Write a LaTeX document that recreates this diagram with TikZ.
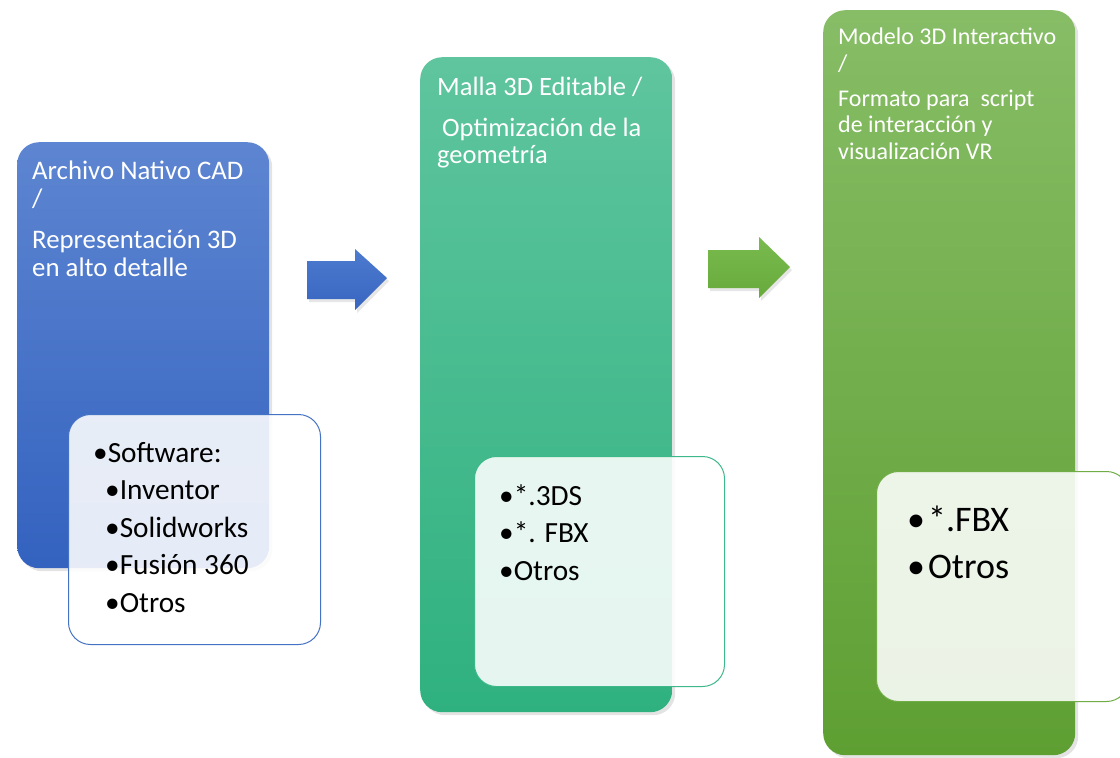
\documentclass[tikz,border=0pt]{standalone}
\usepackage{fontspec}
\setmainfont{Carlito}
\usepackage{xcolor}
\usepackage{tikz}
\usetikzlibrary{positioning,shadows}
\definecolor{cadtop}{HTML}{5D85D1}
\definecolor{cadbot}{HTML}{3362BF}
\definecolor{cadline}{HTML}{4472C4}
\definecolor{meshtop}{HTML}{5FC59F}
\definecolor{meshbot}{HTML}{2FB17F}
\definecolor{meshline}{HTML}{3DB88A}
\definecolor{vrtop}{HTML}{87BD66}
\definecolor{vrbot}{HTML}{5E9F32}
\definecolor{vrline}{HTML}{70AD47}
\definecolor{arrowbluetop}{HTML}{4D7BCF}
\definecolor{arrowbluebot}{HTML}{3865C0}
\definecolor{arrowgreentop}{HTML}{7ABA4F}
\definecolor{arrowgreenbot}{HTML}{67AB3B}
\tikzset{
  stage/.style={rectangle,rounded corners=22pt,draw=none,anchor=north west,
    inner sep=0pt,minimum width=252pt,
    drop shadow={shadow xshift=3pt,shadow yshift=-3pt,opacity=0.22}},
  stagetitle/.style={anchor=north west,inner sep=0pt,align=left,text=white},
  listbox/.style={rectangle,rounded corners=22pt,anchor=north west,line width=1pt,
    fill=white,fill opacity=0.88,inner sep=0pt,minimum width=251pt,minimum height=230pt},
  listtext/.style={anchor=north west,inner sep=0pt,align=left,text=black},
  flowarrow/.style={draw=none,
    drop shadow={shadow xshift=2pt,shadow yshift=-3pt,opacity=0.2}}
}

\begin{document}
\begin{tikzpicture}[x=1pt,y=-1pt]
  \useasboundingbox (0,0) rectangle (1120,758);
  % stage boxes
  \node[stage,top color=cadtop,bottom color=cadbot,minimum height=426pt] (cad) at (17,142) {};
  \node[stage,top color=meshtop,bottom color=meshbot,minimum height=655pt] (mesh) at (420,57) {};
  \node[stage,top color=vrtop,bottom color=vrbot,minimum height=745pt] (vr) at (823,10) {};
  \node[stagetitle,font=\fontsize{26.8}{28}\selectfont,below right=18.5pt and 15pt of cad.north west] (cadtitle)
    {Archivo Nativo CAD\\/\\[13pt]Representación 3D\\en alto detalle};
  \node[stagetitle,font=\fontsize{26.5}{27.5}\selectfont,below right=19.5pt and 17pt of mesh.north west] (meshtitle)
    {Malla 3D Editable /\\[13.5pt]\hspace*{5pt}Optimización de la\\geometría};
  \node[stagetitle,font=\fontsize{24}{26.5}\selectfont,below right=18pt and 15pt of vr.north west] (vrtitle)
    {Modelo 3D Interactivo\\/\\[8.5pt]Formato para\ \ script\\de interacción y\\visualización VR};
  % arrows between stages
  \shade[flowarrow,top color=arrowbluetop,bottom color=arrowbluebot]
    (307,261) -- (355,261) -- (355,249) -- (387,278) -- (355,310) -- (355,299) -- (307,299) -- cycle;
  \shade[flowarrow,top color=arrowgreentop,bottom color=arrowgreenbot]
    (708,250) -- (759,250) -- (759,237) -- (790,267) -- (759,298) -- (759,288) -- (708,288) -- cycle;
  % lists
  \node[listbox,draw=cadline,minimum width=252pt] (cadlist) at (68,414) {};
  \node[listbox,draw=meshline,minimum width=250pt] (meshlist) at (474,456) {};
  \node[listbox,draw=vrline,minimum width=252pt] (vrlist) at (876,471) {};
  \node[listtext,font=\fontsize{29.3}{37.5}\selectfont,below right=28pt and 25pt of cadlist.north west] (cadsoft)
    {•Software:\\\hspace*{12pt}•Inventor\\\hspace*{12pt}•Solidworks\\\hspace*{12pt}•Fusión 360\\\hspace*{12pt}•Otros};
  \node[listtext,font=\fontsize{29.3}{37.5}\selectfont,below right=28pt and 25pt of meshlist.north west] (meshfmt)
    {•*.3DS\\•*. FBX\\•Otros};
  \node[listtext,font=\fontsize{36}{47}\selectfont,below right=35pt and 31pt of vrlist.north west] (vrfmt)
    {•\hspace{3pt}*.FBX\\•\hspace{3pt}Otros};
\end{tikzpicture}
\end{document}
